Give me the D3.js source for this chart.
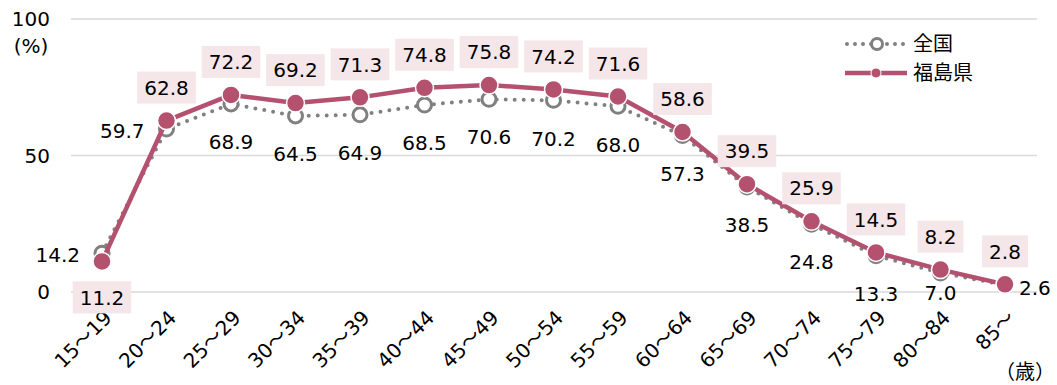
<!DOCTYPE html>
<html>
<head>
<meta charset="utf-8">
<script src="https://cdn.jsdelivr.net/npm/d3@7"></script>
<style>
  html, body { margin: 0; padding: 0; background: #fff; }
  svg { display: block; font-family: "DejaVu Sans", Verdana, "Noto Sans CJK JP", sans-serif; }
</style>
</head>
<body>
<svg id="chart" width="1057" height="385"></svg>
<script>
// Age groups (歳) and labour-force participation rates (%)
const ageGroups = ["15～19","20～24","25～29","30～34","35～39","40～44","45～49","50～54","55～59","60～64","65～69","70～74","75～79","80～84","85～"];
const national  = [14.2, 59.7, 68.9, 64.5, 64.9, 68.5, 70.6, 70.2, 68.0, 57.3, 38.5, 24.8, 13.3, 7.0, 2.6];
const fukushima = [11.2, 62.8, 72.2, 69.2, 71.3, 74.8, 75.8, 74.2, 71.6, 58.6, 39.5, 25.9, 14.5, 8.2, 2.8];
const yTicks = [0, 50, 100];
const seriesNames = ["全国", "福島県"];

const plot = { left: 71, right: 1037, top: 19, bottom: 292 };
const FONT = 20;
const C_FUK = "#b4516f", C_NAT = "#808080", C_BOX = "#f5e6ea";

const svg = d3.select("#chart");

const x = d3.scalePoint().domain(ageGroups).range([102, 1005]);
const y = d3.scaleLinear().domain([0, 100]).range([plot.bottom, plot.top]);

// horizontal gridlines
svg.append("g").selectAll("line").data(yTicks).join("line")
  .attr("x1", plot.left).attr("x2", plot.right)
  .attr("y1", d => y(d)).attr("y2", d => y(d))
  .attr("stroke", "#d9d9d9").attr("stroke-width", 1.5);

// y tick labels
svg.append("g").selectAll("text").data(yTicks).join("text")
  .attr("x", 50).attr("y", d => y(d)).attr("dy", "0.36em")
  .attr("text-anchor", "end").attr("font-size", FONT).attr("fill", "#000")
  .text(d => d);
svg.append("text").attr("x", 31).attr("y", y(100) + 27).attr("dy", "0.36em")
  .attr("text-anchor", "middle").attr("font-size", FONT).text("(%)");

// x tick labels, rotated
svg.append("g").selectAll("text").data(ageGroups).join("text")
  .attr("transform", d => `translate(${x(d) + 6},${plot.bottom + 22}) rotate(-45)`)
  .attr("text-anchor", "end").attr("dy", "0.36em")
  .attr("font-size", FONT).attr("fill", "#000")
  .text(d => d);
svg.append("text").attr("x", 1025).attr("y", 372).attr("dy", "0.36em")
  .attr("text-anchor", "middle").attr("font-size", FONT)
  .attr("font-family", "'Noto Sans CJK JP', sans-serif").text("（歳）");

const line = d3.line().x((d, i) => x(ageGroups[i])).y(d => y(d));

// national series: dotted line with open circles
svg.append("path").datum(national)
  .attr("d", line).attr("fill", "none")
  .attr("stroke", C_NAT).attr("stroke-width", 4)
  .attr("stroke-linecap", "round").attr("stroke-dasharray", "0 9");
svg.append("g").selectAll("circle").data(national).join("circle")
  .attr("cx", (d, i) => x(ageGroups[i])).attr("cy", d => y(d))
  .attr("r", 7).attr("fill", "#fff")
  .attr("stroke", C_NAT).attr("stroke-width", 3);

// Fukushima series: solid line with filled markers
svg.append("path").datum(fukushima)
  .attr("d", line).attr("fill", "none")
  .attr("stroke", C_FUK).attr("stroke-width", 4.5)
  .attr("stroke-linejoin", "round");
svg.append("g").selectAll("circle").data(fukushima).join("circle")
  .attr("cx", (d, i) => x(ageGroups[i])).attr("cy", d => y(d))
  .attr("r", 9).attr("fill", C_FUK)
  .attr("stroke", "#fff").attr("stroke-width", 1.5);

// national value labels: below the marker, with a few exceptions
const natPlace = { 0: "left", 1: "left", 13: "low", 14: "right" };
const natG = svg.append("g");
national.forEach((v, i) => {
  const px = x(ageGroups[i]), py = y(v);
  const p = natPlace[i] || "below";
  let tx = px, ty = py + 38, anchor = "middle";
  if (p === "left")  { tx = px - 22; ty = py + 2; anchor = "end"; }
  if (p === "right") { tx = px + 14; ty = py + 3; anchor = "start"; }
  if (p === "low")   { ty = py + 20; }
  natG.append("text").attr("x", tx).attr("y", ty).attr("dy", "0.36em")
    .attr("text-anchor", anchor).attr("font-size", FONT).attr("fill", "#000")
    .text(v.toFixed(1));
});

// Fukushima value labels: boxed, above the marker (first one below)
const fukG = svg.append("g");
fukushima.forEach((v, i) => {
  const px = x(ageGroups[i]), py = y(v);
  const ty = i === 0 ? py + 36 : py - 33;
  const g = fukG.append("g");
  const t = g.append("text").attr("x", px).attr("y", ty).attr("dy", "0.36em")
    .attr("text-anchor", "middle").attr("font-size", FONT).attr("fill", "#000")
    .text(v.toFixed(1));
  const bb = t.node().getBBox();
  g.insert("rect", "text")
    .attr("x", bb.x - 7).attr("y", ty - 16)
    .attr("width", bb.width + 14).attr("height", 32)
    .attr("fill", C_BOX);
});

// legend
const lg = svg.append("g");
lg.append("line").attr("x1", 847).attr("x2", 905).attr("y1", 44).attr("y2", 44)
  .attr("stroke", C_NAT).attr("stroke-width", 4)
  .attr("stroke-linecap", "round").attr("stroke-dasharray", "0 8");
lg.append("circle").attr("cx", 877).attr("cy", 44).attr("r", 5.5)
  .attr("fill", "#fff").attr("stroke", C_NAT).attr("stroke-width", 3);
lg.append("line").attr("x1", 845).attr("x2", 907).attr("y1", 73).attr("y2", 73)
  .attr("stroke", C_FUK).attr("stroke-width", 4.5);
lg.append("circle").attr("cx", 876).attr("cy", 73).attr("r", 5)
  .attr("fill", C_FUK).attr("stroke", "#fff").attr("stroke-width", 1);
lg.selectAll("text.lgt").data(seriesNames).join("text")
  .attr("class", "lgt")
  .attr("x", 913).attr("y", (d, i) => 44 + i * 29).attr("dy", "0.36em")
  .attr("font-family", "'Noto Sans CJK JP', sans-serif")
  .attr("font-size", FONT).attr("fill", "#000")
  .text(d => d);
</script>
</body>
</html>
